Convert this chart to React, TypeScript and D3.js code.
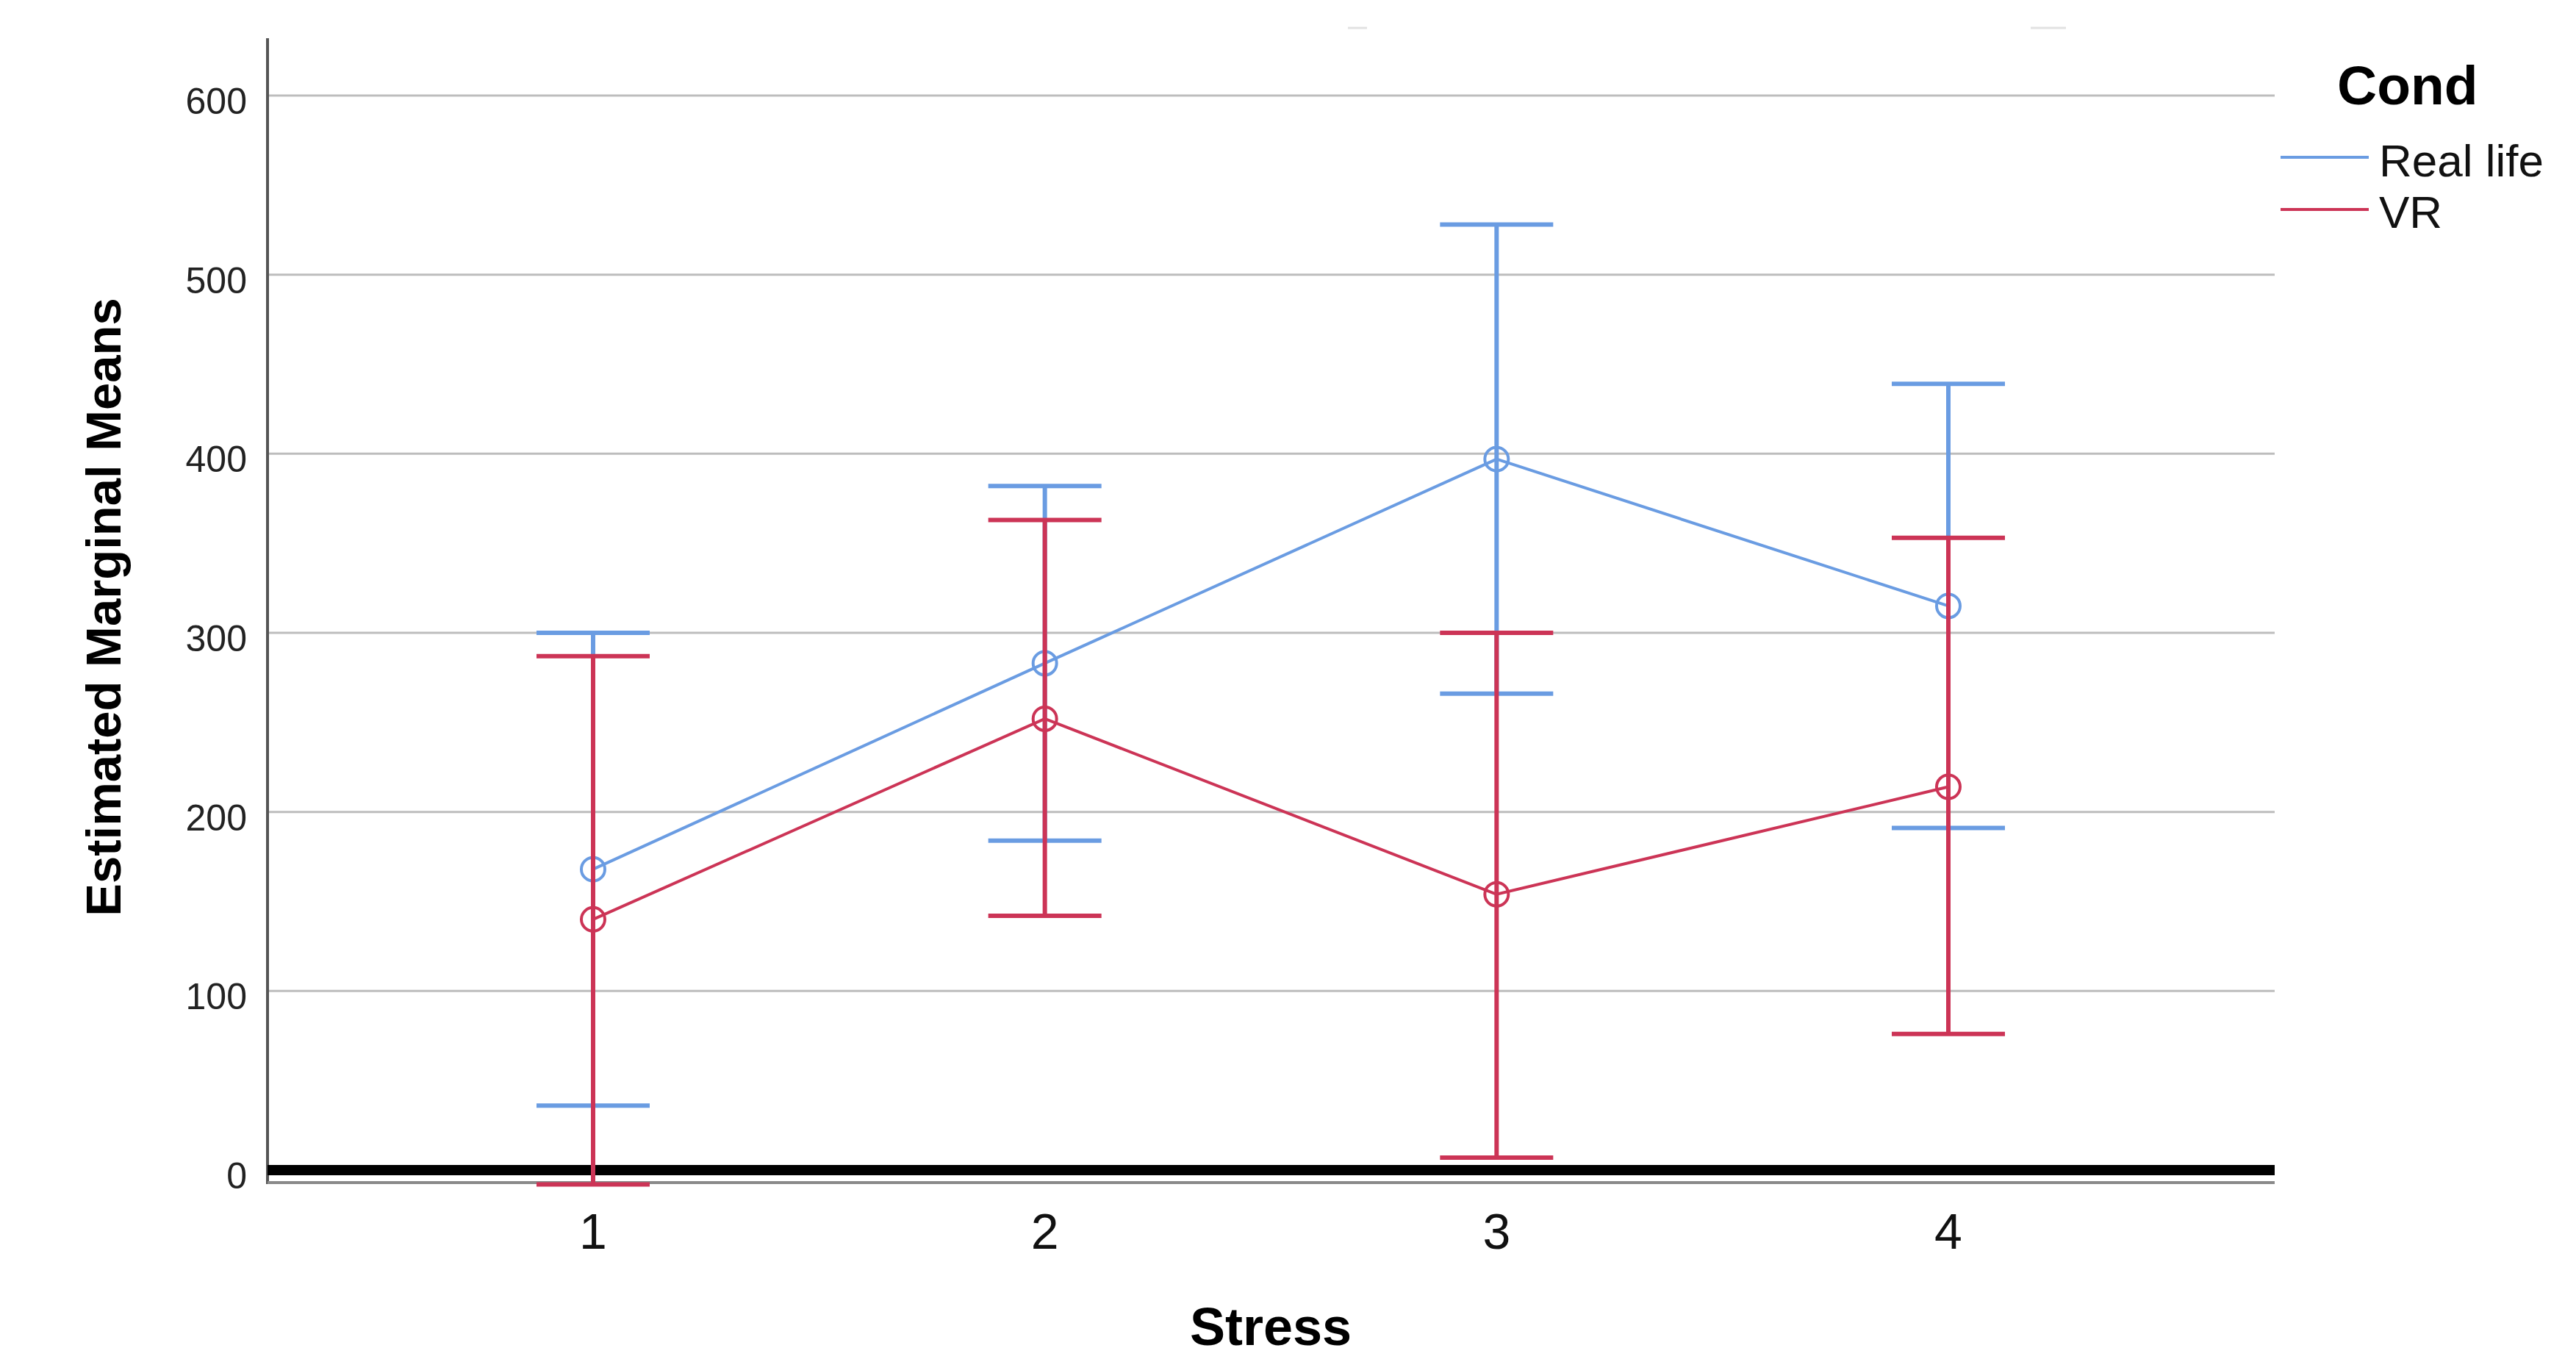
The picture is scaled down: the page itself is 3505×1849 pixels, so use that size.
import React from "react";
import * as d3 from "d3";

const stressLevels = [1, 2, 3, 4];
const yTicks = [0, 100, 200, 300, 400, 500, 600];

const realMean = [168, 283, 397, 315];
const realUpper = [300, 382, 528, 439];
const realLower = [36, 184, 266, 191];

const vrMean = [140, 252, 154, 214];
const vrUpper = [287, 363, 300, 353];
const vrLower = [-8, 142, 7, 76];

const seriesNames = ["Real life", "VR"];
const seriesColors = ["#6A9CE2", "#CC3456"];

const W = 3505;
const H = 1849;
const plotLeft = 364;
const plotRight = 3095;
const axisTop = 52;
const axisBottom = 1609;

const FONT = "'Liberation Sans', Arial, Helvetica, sans-serif";

export default function App() {
  const x = d3.scaleLinear().domain([1, 4]).range([807, 2651]);
  const y = d3.scaleLinear().domain([0, 600]).range([1592, 130]);
  const line = d3
    .line<number>()
    .x((_, i) => x(stressLevels[i]))
    .y((d) => y(d));

  const series = [
    { name: seriesNames[0], color: seriesColors[0], mean: realMean, up: realUpper, lo: realLower },
    { name: seriesNames[1], color: seriesColors[1], mean: vrMean, up: vrUpper, lo: vrLower },
  ];
  const capHalf = 77;

  return (
    <svg
      width={W}
      height={H}
      style={{ position: "absolute", left: 0, top: 0, background: "#fff" }}
      fontFamily={FONT}
    >
      <rect x={0} y={0} width={W} height={H} fill="#fff" />
      {/* faint top artifacts */}
      <line x1={1834} x2={1860} y1={38} y2={38} stroke="#e2e2e2" strokeWidth={3} />
      <line x1={2763} x2={2811} y1={38} y2={38} stroke="#e2e2e2" strokeWidth={3} />

      {/* gridlines */}
      {yTicks
        .filter((t) => t !== 0)
        .map((t) => (
          <line key={t} x1={plotLeft} x2={plotRight} y1={y(t)} y2={y(t)} stroke="#bdbdbd" strokeWidth={3} />
        ))}

      {/* y tick labels */}
      {yTicks.map((t) => (
        <text key={t} x={336} y={y(t) + 25} textAnchor="end" fontSize={50} fill="#222">
          {t}
        </text>
      ))}

      {/* axes */}
      <line x1={plotLeft} x2={plotLeft} y1={axisTop} y2={axisBottom + 2} stroke="#555" strokeWidth={4} />
      <line x1={plotLeft} x2={plotRight} y1={axisBottom} y2={axisBottom} stroke="#8a8a8a" strokeWidth={4} />
      <line x1={plotLeft} x2={plotRight} y1={y(0)} y2={y(0)} stroke="#000" strokeWidth={14} />

      {/* x tick labels */}
      {stressLevels.map((s) => (
        <text key={s} x={x(s)} y={1699} textAnchor="middle" fontSize={68} fill="#111">
          {s}
        </text>
      ))}

      {/* series */}
      {series.map((sr) => (
        <g key={sr.name}>
          {stressLevels.map((s, i) => (
            <g key={s} stroke={sr.color} strokeWidth={6}>
              <line x1={x(s)} x2={x(s)} y1={y(sr.up[i])} y2={y(sr.lo[i])} />
              <line x1={x(s) - capHalf} x2={x(s) + capHalf} y1={y(sr.up[i])} y2={y(sr.up[i])} />
              <line x1={x(s) - capHalf} x2={x(s) + capHalf} y1={y(sr.lo[i])} y2={y(sr.lo[i])} />
            </g>
          ))}
          <path d={line(sr.mean) || ""} fill="none" stroke={sr.color} strokeWidth={4} />
          {stressLevels.map((s, i) => (
            <circle key={s} cx={x(s)} cy={y(sr.mean[i])} r={16} fill="none" stroke={sr.color} strokeWidth={4} />
          ))}
        </g>
      ))}

      {/* axis titles */}
      <text
        transform={`translate(164, 826) rotate(-90)`}
        textAnchor="middle"
        fontSize={67}
        fontWeight="bold"
        fill="#000"
      >
        Estimated Marginal Means
      </text>
      <text x={1729} y={1830} textAnchor="middle" fontSize={72} fontWeight="bold" fill="#000">
        Stress
      </text>

      {/* legend */}
      <text x={3180} y={142} fontSize={75} fontWeight="bold" fill="#000">
        Cond
      </text>
      {series.map((sr, i) => (
        <g key={sr.name}>
          <line x1={3103} x2={3223} y1={214 + i * 71} y2={214 + i * 71} stroke={sr.color} strokeWidth={4} />
          <text x={3237} y={240 + i * 70} fontSize={62} fill="#111">
            {sr.name}
          </text>
        </g>
      ))}
    </svg>
  );
}
